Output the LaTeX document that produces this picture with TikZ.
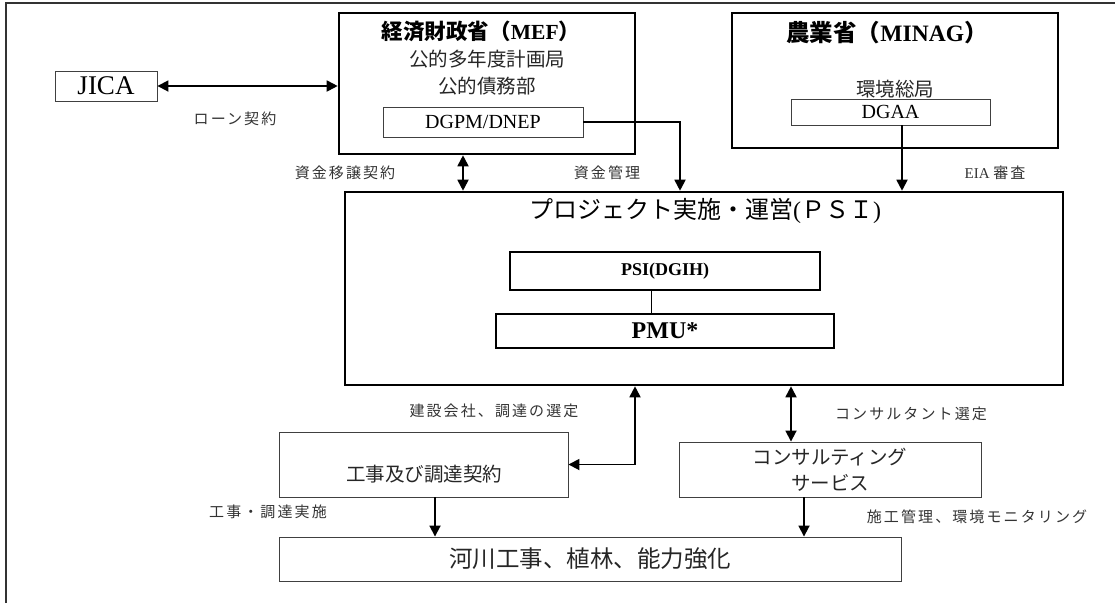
\documentclass[tikz,border=0pt]{standalone}
\usepackage{fontspec}
\setmainfont{Liberation Serif}
\newfontfamily\jp{Noto Sans CJK JP}
\newfontfamily\jpl[LetterSpace=14]{Noto Sans CJK JP}
\usetikzlibrary{arrows.meta}
\begin{document}
\begin{tikzpicture}[x=1pt,y=-1pt,
  thickbox/.style={draw, line width=2.6pt, inner sep=0pt},
  thinbox/.style={draw=black!75, line width=0.9pt, inner sep=0pt},
  conn/.style={line width=1.8pt, -{Triangle[length=11pt,width=11pt]}},
  dconn/.style={line width=1.8pt, {Triangle[length=11pt,width=11pt]}-{Triangle[length=11pt,width=11pt]}},
  lbl/.style={font=\jpl\fontsize{15}{17}\selectfont, text=black!80, inner sep=0pt},
  txt/.style={inner sep=0pt, text=black!85}
]
\useasboundingbox (0,0) rectangle (1115,603);
% outer frame
\draw[line width=1.6pt, black!80] (6,603) -- (6,3) -- (1115,3);
% boxes
\node[thinbox, minimum width=102pt, minimum height=30pt, font=\fontsize{27}{29}\selectfont] (jica) at (106,86) {JICA};
\node[thickbox, minimum width=296pt, minimum height=141pt] (mef) at (487,83.5) {};
\node[txt, text=black, font=\fontsize{21.5}{23}\selectfont] (meft) at (481,31) {{\jp\bfseries 経済財政省（}\textbf{MEF}{\jp\bfseries ）}};
\node[txt, font=\jp\fontsize{19.5}{21}\selectfont] (mef1) at (487,59) {公的多年度計画局};
\node[txt, font=\jp\fontsize{19.5}{21}\selectfont] (mef2) at (487,86) {公的債務部};
\node[thinbox, minimum width=200pt, minimum height=30pt, font=\fontsize{20}{22}\selectfont] (dgpm) at (483,122) {DGPM/DNEP};
\node[thickbox, minimum width=326pt, minimum height=135pt] (minag) at (895,80.5) {};
\node[txt, text=black, font=\fontsize{23.5}{25}\selectfont] (minagt) at (887,33) {{\jp\bfseries 農業省（}\textbf{MINAG}{\jp\bfseries ）}};
\node[txt, font=\jp\fontsize{19.5}{21}\selectfont] (kankyo) at (895,89) {環境総局};
\node[thinbox, minimum width=199pt, minimum height=26pt, font=\fontsize{20}{22}\selectfont] (dgaa) at (890.5,112) {DGAA};
\node[thickbox, minimum width=718pt, minimum height=193pt] (psi) at (704,288.5) {};
\node[txt, text=black, font=\fontsize{24}{26}\selectfont] (psit) at (705,211) {{\jp プロジェクト実施・運営}({\jp ＰＳＩ})};
\node[draw, line width=1.6pt, inner sep=0pt, minimum width=310pt, minimum height=38pt, font=\bfseries\fontsize{18}{20}\selectfont] (dgih) at (665,271) {PSI(DGIH)};
\node[draw, line width=1.6pt, inner sep=0pt, minimum width=338pt, minimum height=34pt, font=\bfseries\fontsize{24}{26}\selectfont] (pmu) at (665,331) {PMU*};
\node[thinbox, minimum width=289pt, minimum height=65pt] (works) at (423.5,464.5) {};
\node[txt, font=\jp\fontsize{19.5}{21}\selectfont] (workst) at (424,474) {工事及び調達契約};
\node[thinbox, minimum width=302pt, minimum height=55pt, align=center, font=\jp\fontsize{19.5}{26}\selectfont, text=black!85] (consult) at (830,469.5) {コンサルティング\\サービス};
\node[thinbox, minimum width=622pt, minimum height=44pt, font=\jp\fontsize{23.5}{25}\selectfont, text=black!85] (river) at (590,559) {河川工事、植林、能力強化};
% labels
\node[lbl] (l1) at (235,119) {ローン契約};
\node[lbl] (l2) at (345,173) {資金移譲契約};
\node[lbl] (l3) at (607,173) {資金管理};
\node[lbl] (l4) at (995,173) {\fontspec{Liberation Serif}\fontsize{15}{17}\selectfont EIA {\jpl 審査}};
\node[lbl] (l5) at (494,411) {建設会社、調達の選定};
\node[lbl] (l6) at (911,414) {コンサルタント選定};
\node[lbl] (l7) at (268,512) {工事・調達実施};
\node[lbl] (l8) at (977,517) {施工管理、環境モニタリング};
% connector anchors
\coordinate (xa) at (463,0);
\coordinate (xb) at (680,0);
\coordinate (xc) at (902,0);
\coordinate (xd) at (635,0);
\coordinate (xe) at (791,0);
\coordinate (xf) at (435,0);
\coordinate (xg) at (804,0);
\coordinate (xh) at (651,0);
% connectors
\draw[dconn] (jica.east) -- (jica.east -| mef.west);
\draw[dconn] (mef.south -| xa) -- (psi.north -| xa);
\draw[conn] (dgpm.east) -| (psi.north -| xb);
\draw[conn] (dgaa.south -| xc) -- (psi.north -| xc);
\draw[dconn] (works.east) -| (psi.south -| xd);
\draw[dconn] (psi.south -| xe) -- (consult.north -| xe);
\draw[conn] (works.south -| xf) -- (river.north -| xf);
\draw[conn] (consult.south -| xg) -- (river.north -| xg);
\draw[line width=1pt] (dgih.south -| xh) -- (pmu.north -| xh);
\end{tikzpicture}
\end{document}
